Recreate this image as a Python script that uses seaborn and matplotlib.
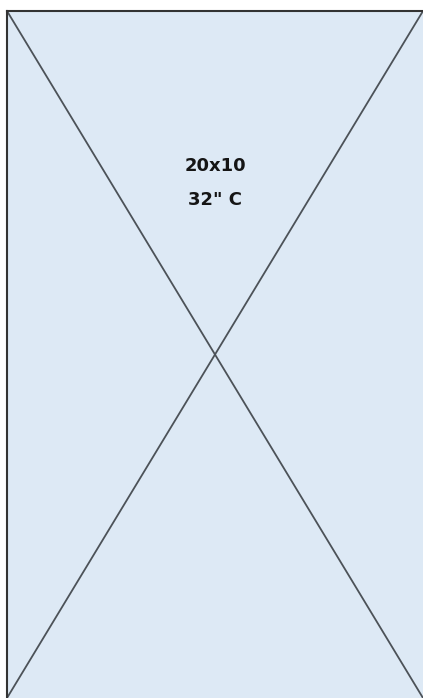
import numpy as np
import pandas as pd
import matplotlib
matplotlib.use('Agg')
import matplotlib.pyplot as plt
import seaborn as sns

# 占位图数据: 两条对角线 + 中间文字
diag_x = [0.0, 1.0]
diag1_y = [1.0, 0.0]
diag2_y = [0.0, 1.0]
labels = ['20x10', '32" C']
label_y = [0.775, 0.725]

sns.set_style('white')
plt.rcParams['font.family'] = ['DejaVu Sans']

fig = plt.figure(figsize=(4.23, 6.98), dpi=100)
ax = fig.add_axes([7 / 423, 0, 416 / 423, 687 / 698])
ax.set_facecolor('#dde9f5')

df = pd.DataFrame({
    'x': diag_x + diag_x,
    'y': diag1_y + diag2_y,
    'line': ['a', 'a', 'b', 'b'],
})
sns.lineplot(data=df, x='x', y='y', units='line', estimator=None,
             color='#4c5258', linewidth=1.3, ax=ax, legend=False)

for txt, yy in zip(labels, label_y):
    ax.text(0.5, yy, txt, ha='center', va='center', fontsize=13,
            fontweight='bold', color='#151515')

ax.set_xlim(0, 1)
ax.set_ylim(0, 1)
ax.set_xticks([])
ax.set_yticks([])
ax.set_xlabel('')
ax.set_ylabel('')
for side in ['right', 'bottom']:
    ax.spines[side].set_visible(False)
for side in ['left', 'top']:
    ax.spines[side].set_color('#333333')
    ax.spines[side].set_linewidth(1.5)

fig.savefig('out.png', dpi=100, facecolor='white')
